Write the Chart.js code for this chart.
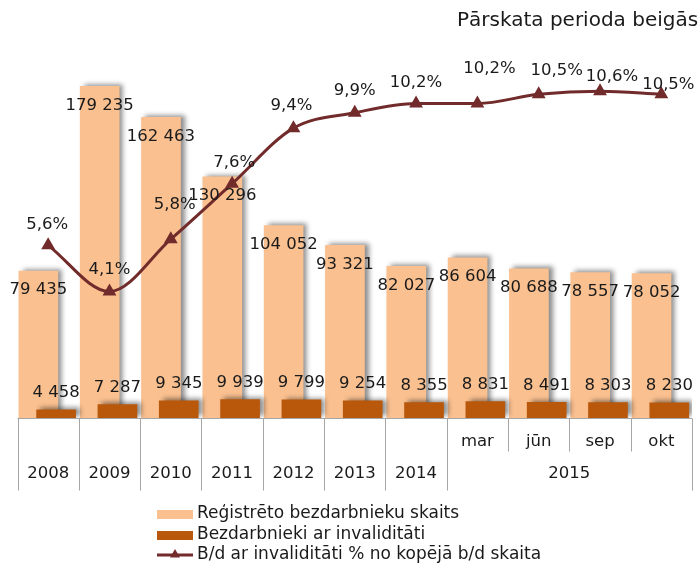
<!DOCTYPE html>
<html>
<head>
<meta charset="utf-8">
<script src="https://cdn.jsdelivr.net/npm/chart.js@4.4.0/dist/chart.umd.min.js"></script>
<style>
  body { margin: 0; background: #fff; }
  #wrap { width: 700px; height: 564px; position: relative; }
</style>
</head>
<body>
<div id="wrap"><canvas id="chart"></canvas></div>
<script>
// Categories along the bottom; the 2015 months share one group label
const categories = ['2008', '2009', '2010', '2011', '2012', '2013', '2014', 'mar', 'jūn', 'sep', 'okt'];
const groupLabel = '2015';
const groupStart = 7;

// Series values
const registered = [79435, 179235, 162463, 130296, 104052, 93321, 82027, 86604, 80688, 78557, 78052];
const disabled = [4458, 7287, 9345, 9939, 9799, 9254, 8355, 8831, 8491, 8303, 8230];
const disabledShare = [5.6, 4.1, 5.8, 7.6, 9.4, 9.9, 10.2, 10.2, 10.5, 10.6, 10.5];

const seriesNames = [
  'Reģistrēto bezdarbnieku skaits',
  'Bezdarbnieki ar invaliditāti',
  'B/d ar invaliditāti % no kopējā b/d skaita',
];
const titleText = 'Pārskata perioda beigās';

const FONT = "'DejaVu Sans', Verdana, sans-serif";
const TEXT = '#1a1a1a';
const LIGHT = '#fac090';
const DARK = '#b9580b';
const LINE = '#722b2b';

// nudges for the percent labels (Excel had some of them moved by hand)
const pctNudge = [[-1, -21], [0, -22], [4, -34], [2, -21], [-2, -22], [0, -22],
  [0, -21], [12, -35], [18, -24], [12, -14], [7, -10]];

function fmtNum(n) {
  return String(n).replace(/\B(?=(\d{3})+(?!\d))/g, ' ');
}
function fmtPct(v) {
  return v.toFixed(1).replace('.', ',') + '%';
}

function triangle(ctx, x, y, r) {
  ctx.beginPath();
  ctx.moveTo(x, y - r);
  ctx.lineTo(x + r, y + r * 0.7);
  ctx.lineTo(x - r, y + r * 0.7);
  ctx.closePath();
  ctx.fill();
}

const extrasPlugin = {
  id: 'extras',
  afterDatasetsUpdate(chart) {
    // Excel-style overlap: move the two bar series apart a bit
    const x = chart.scales.x;
    const step = x.getPixelForValue(1) - x.getPixelForValue(0);
    chart.getDatasetMeta(0).data.forEach(b => { b.x -= step * 0.16; });
    chart.getDatasetMeta(1).data.forEach(b => { b.x += step * 0.13; });
  },
  beforeDatasetDraw(chart, args) {
    if (args.meta.type !== 'bar') return;
    const ctx = chart.ctx;
    ctx.save();
    ctx.shadowColor = 'rgba(0, 0, 0, 0.45)';
    ctx.shadowBlur = 5;
    ctx.shadowOffsetX = 4;
    ctx.shadowOffsetY = -2;
  },
  afterDatasetDraw(chart, args) {
    if (args.meta.type !== 'bar') return;
    chart.ctx.restore();
  },
  afterDraw(chart) {
    const ctx = chart.ctx;
    const x = chart.scales.x;
    const area = chart.chartArea;
    const n = categories.length;

    ctx.save();
    ctx.font = '16.5px ' + FONT;
    ctx.fillStyle = TEXT;
    ctx.textAlign = 'center';
    ctx.textBaseline = 'middle';

    // value labels
    chart.getDatasetMeta(0).data.forEach((b, i) => {
      ctx.fillText(fmtNum(registered[i]), b.x, b.y + 19);
    });
    chart.getDatasetMeta(1).data.forEach((b, i) => {
      ctx.fillText(fmtNum(disabled[i]), b.x, b.y - 17);
    });
    chart.getDatasetMeta(2).data.forEach((p, i) => {
      ctx.fillText(fmtPct(disabledShare[i]), p.x + pctNudge[i][0], p.y + pctNudge[i][1]);
    });

    // category table under the plot
    const top = Math.round(area.bottom) + 0.5;
    ctx.strokeStyle = '#a6a6a6';
    ctx.lineWidth = 1;
    ctx.beginPath();
    ctx.moveTo(area.left, top);
    ctx.lineTo(area.right, top);
    for (let i = 0; i <= n; i++) {
      let bx;
      if (i === 0) bx = area.left;
      else if (i === n) bx = area.right;
      else bx = (x.getPixelForValue(i - 1) + x.getPixelForValue(i)) / 2;
      bx = Math.round(bx) + 0.5;
      const len = (i > groupStart && i < n) ? 33 : 72;
      ctx.moveTo(bx, top);
      ctx.lineTo(bx, top + len);
    }
    ctx.stroke();

    categories.forEach((c, i) => {
      const cy = i < groupStart ? top + 55 : top + 23;
      ctx.fillText(c, x.getPixelForValue(i), cy);
    });
    const gx = (x.getPixelForValue(groupStart) + x.getPixelForValue(n - 1)) / 2;
    ctx.fillText(groupLabel, gx, top + 55);

    // legend, stacked
    ctx.textAlign = 'left';
    ctx.font = '17px ' + FONT;
    const lx = 157, rows = [514, 535, 555];
    ctx.fillStyle = LIGHT;
    ctx.fillRect(lx, rows[0] - 4, 36, 9);
    ctx.fillStyle = DARK;
    ctx.fillRect(lx, rows[1] - 4, 36, 9);
    ctx.strokeStyle = LINE;
    ctx.lineWidth = 3;
    ctx.beginPath();
    ctx.moveTo(lx, rows[2]);
    ctx.lineTo(lx + 36, rows[2]);
    ctx.stroke();
    ctx.fillStyle = LINE;
    triangle(ctx, lx + 18, rows[2] - 1, 5);
    ctx.fillStyle = TEXT;
    seriesNames.forEach((s, i) => ctx.fillText(s, lx + 40, rows[i]));

    // title
    ctx.font = '20px ' + FONT;
    ctx.fillText(titleText, 457, 21);
    ctx.restore();
  },
};

new Chart(document.getElementById('chart'), {
  type: 'bar',
  data: {
    labels: categories,
    datasets: [
      {
        label: seriesNames[0],
        data: registered,
        backgroundColor: LIGHT,
        barThickness: 39,
        grouped: false,
        yAxisID: 'y',
        order: 2,
      },
      {
        label: seriesNames[1],
        data: disabled,
        backgroundColor: DARK,
        barThickness: 39,
        grouped: false,
        yAxisID: 'y',
        order: 1,
      },
      {
        type: 'line',
        label: seriesNames[2],
        data: disabledShare,
        borderColor: LINE,
        backgroundColor: LINE,
        borderWidth: 3,
        cubicInterpolationMode: 'monotone',
        pointStyle: 'triangle',
        pointRadius: 5,
        pointBackgroundColor: LINE,
        pointBorderColor: LINE,
        yAxisID: 'y2',
        order: 0,
      },
    ],
  },
  options: {
    responsive: true,
    maintainAspectRatio: false,
    animation: false,
    events: [],
    layout: { padding: { left: 17.5, right: 5.5, top: 48, bottom: 146 } },
    plugins: {
      legend: { display: false },
      tooltip: { enabled: false },
    },
    scales: {
      x: { display: false },
      y: { display: false, min: 0, max: 200000 },
      y2: { display: false, min: 0, max: 12, position: 'right' },
    },
  },
  plugins: [extrasPlugin],
});
</script>
</body>
</html>
